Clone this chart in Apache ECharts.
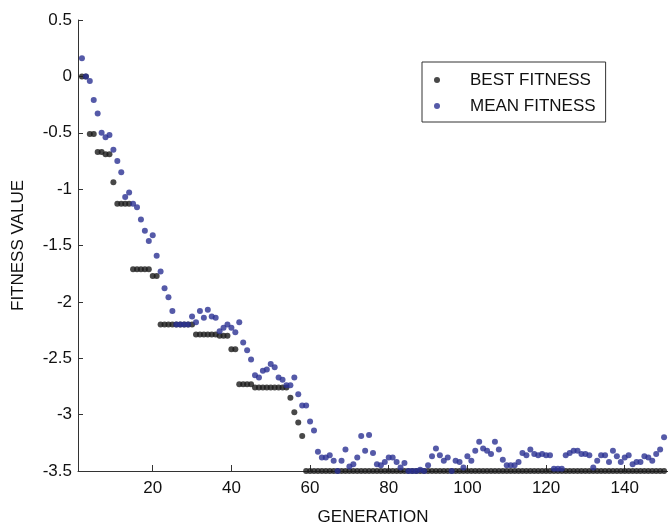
<!DOCTYPE html>
<html>
<head>
<meta charset="utf-8">
<script src="https://cdn.jsdelivr.net/npm/echarts@6/dist/echarts.min.js"></script>
<style>
  html, body { margin: 0; padding: 0; background: #fff; }
  #chart { width: 668px; height: 525px; }
</style>
</head>
<body>
<div id="chart"></div>
<script>
// first generation shown on the plot (x of the first value in each array)
const firstGeneration = 2;

// best fitness per generation
const bestFitness = [
  0, 0, -0.51, -0.51, -0.67, -0.67, -0.69, -0.69, -0.94, -1.13,
  -1.13, -1.13, -1.13, -1.71, -1.71, -1.71, -1.71, -1.71, -1.77, -1.77,
  -2.2, -2.2, -2.2, -2.2, -2.2, -2.2, -2.2, -2.2, -2.2, -2.29,
  -2.29, -2.29, -2.29, -2.29, -2.29, -2.3, -2.3, -2.3, -2.42, -2.42,
  -2.73, -2.73, -2.73, -2.73, -2.76, -2.76, -2.76, -2.76, -2.76, -2.76,
  -2.76, -2.76, -2.76, -2.85, -2.98, -3.07, -3.19, -3.5, -3.5, -3.5,
  -3.5, -3.5, -3.5, -3.5, -3.5, -3.5, -3.5, -3.5, -3.5, -3.5,
  -3.5, -3.5, -3.5, -3.5, -3.5, -3.5, -3.5, -3.5, -3.5, -3.5,
  -3.5, -3.5, -3.5, -3.5, -3.5, -3.5, -3.5, -3.5, -3.5, -3.5,
  -3.5, -3.5, -3.5, -3.5, -3.5, -3.5, -3.5, -3.5, -3.5, -3.5,
  -3.5, -3.5, -3.5, -3.5, -3.5, -3.5, -3.5, -3.5, -3.5, -3.5,
  -3.5, -3.5, -3.5, -3.5, -3.5, -3.5, -3.5, -3.5, -3.5, -3.5,
  -3.5, -3.5, -3.5, -3.5, -3.5, -3.5, -3.5, -3.5, -3.5, -3.5,
  -3.5, -3.5, -3.5, -3.5, -3.5, -3.5, -3.5, -3.5, -3.5, -3.5,
  -3.5, -3.5, -3.5, -3.5, -3.5, -3.5, -3.5, -3.5, -3.5
];

// mean fitness per generation
const meanFitness = [
  0.16, 0.0, -0.04, -0.21, -0.33, -0.5, -0.54, -0.52, -0.65, -0.75,
  -0.85, -1.07, -1.03, -1.13, -1.16, -1.27, -1.37, -1.46, -1.41, -1.59,
  -1.73, -1.88, -1.96, -2.08, -2.2, -2.2, -2.2, -2.2, -2.13, -2.18,
  -2.08, -2.14, -2.07, -2.13, -2.14, -2.26, -2.23, -2.2, -2.23, -2.27,
  -2.18, -2.36, -2.43, -2.51, -2.65, -2.67, -2.61, -2.6, -2.55, -2.58,
  -2.67, -2.69, -2.74, -2.74, -2.67, -2.82, -2.92, -2.92, -3.06, -3.14,
  -3.33, -3.38, -3.38, -3.36, -3.41, -3.5, -3.41, -3.31, -3.46, -3.44,
  -3.38, -3.19, -3.32, -3.18, -3.34, -3.44, -3.45, -3.42, -3.38, -3.38,
  -3.42, -3.47, -3.43, -3.5, -3.5, -3.5, -3.49, -3.5, -3.45, -3.37,
  -3.3, -3.36, -3.41, -3.38, -3.5, -3.41, -3.42, -3.47, -3.37, -3.41,
  -3.32, -3.24, -3.3, -3.32, -3.35, -3.24, -3.31, -3.4, -3.45, -3.45,
  -3.45, -3.42, -3.34, -3.36, -3.31, -3.35, -3.36, -3.35, -3.36, -3.36,
  -3.48, -3.48, -3.48, -3.36, -3.34, -3.32, -3.32, -3.35, -3.35, -3.36,
  -3.47, -3.41, -3.36, -3.36, -3.42, -3.32, -3.37, -3.42, -3.38, -3.36,
  -3.44, -3.42, -3.42, -3.37, -3.38, -3.41, -3.35, -3.31, -3.2
];

const xTicks = [20, 40, 60, 80, 100, 120, 140];

const font = '"Liberation Sans", Arial, sans-serif';
const axisColor = '#333';
const textColor = '#111';

// pair each value with its generation number
const toPoints = values => values.map((v, i) => [firstGeneration + i, v]);

const chart = echarts.init(document.getElementById('chart'), null, { renderer: 'canvas' });

chart.setOption({
  animation: false,
  backgroundColor: '#fff',
  textStyle: { fontFamily: font },
  grid: { left: 78, right: 0, top: 20, bottom: 54, outerBoundsMode: 'none', containLabel: false },
  legend: {
    orient: 'vertical',
    left: 422,
    top: 62,
    data: ['BEST FITNESS', 'MEAN FITNESS'],
    icon: 'circle',
    itemWidth: 6,
    itemHeight: 6,
    itemGap: 8,
    padding: [9, 10, 7, 12],
    borderColor: axisColor,
    borderWidth: 1,
    textStyle: {
      fontFamily: font,
      fontSize: 17,
      color: textColor,
      lineHeight: 18,
      padding: [0, 0, 0, 25]
    }
  },
  xAxis: {
    type: 'value',
    min: 1,
    max: 151,
    name: 'GENERATION',
    nameLocation: 'middle',
    nameGap: 38,
    nameTextStyle: { fontFamily: font, fontSize: 17, color: textColor },
    axisLine: { onZero: false, lineStyle: { color: axisColor, width: 1 } },
    axisTick: { inside: true, length: 6, customValues: xTicks, lineStyle: { color: axisColor } },
    axisLabel: { customValues: xTicks, fontSize: 17, color: textColor, margin: 9 },
    splitLine: { show: false }
  },
  yAxis: {
    type: 'value',
    min: -3.5,
    max: 0.5,
    interval: 0.5,
    name: 'FITNESS VALUE',
    nameLocation: 'middle',
    nameGap: 51,
    nameTextStyle: { fontFamily: font, fontSize: 17, color: textColor },
    axisLine: { show: true, onZero: false, lineStyle: { color: axisColor, width: 1 } },
    axisTick: { show: true, inside: true, length: 5, lineStyle: { color: axisColor } },
    axisLabel: { fontSize: 17, color: textColor, margin: 6 },
    splitLine: { show: false }
  },
  series: [
    {
      name: 'BEST FITNESS',
      type: 'scatter',
      symbol: 'circle',
      symbolSize: 6,
      itemStyle: { color: '#1a1a1a' },
      data: toPoints(bestFitness)
    },
    {
      name: 'MEAN FITNESS',
      type: 'scatter',
      symbol: 'circle',
      symbolSize: 6,
      itemStyle: { color: '#2b3192' },
      data: toPoints(meanFitness)
    }
  ]
});
</script>
</body>
</html>
